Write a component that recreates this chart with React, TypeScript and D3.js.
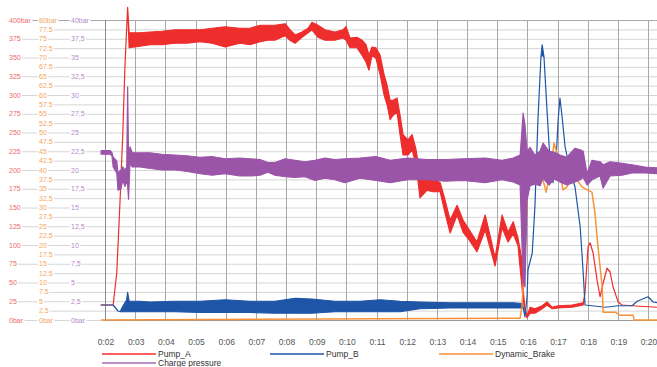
import * as d3 from 'd3';
import React from 'react';

// time axis (seconds) and tick labels
const timeLabels = ['0:02', '0:03', '0:04', '0:05', '0:06', '0:07', '0:08', '0:09', '0:10', '0:11',
  '0:12', '0:13', '0:14', '0:15', '0:16', '0:17', '0:18', '0:19', '0:20'];
const timeTicks = [2, 3, 4, 5, 6, 7, 8, 9, 10, 11, 12, 13, 14, 15, 16, 17, 18, 19, 20];

// pump axis 0..400 bar (step 25)
const pumpLabels = ['0bar', '25', '50', '75', '100', '125', '150', '175', '200', '225', '250',
  '275', '300', '325', '350', '375', '400bar'];
// brake axis 0..80 bar (step 2.5)
const brakeLabels = ['0bar', '2.5', '5', '7.5', '10', '12.5', '15', '17.5', '20', '22.5', '25',
  '27.5', '30', '32.5', '35', '37.5', '40', '42.5', '45', '47.5', '50', '52.5', '55', '57.5', '60',
  '62.5', '65', '67.5', '70', '72.5', '75', '77.5', '80bar'];
// charge axis 0..40 bar (step 2.5)
const chargeLabels = ['0bar', '2,5', '5', '7,5', '10', '12,5', '15', '17,5', '20', '22,5', '25',
  '27,5', '30', '32,5', '35', '37,5', '40bar'];

// [time s, low bar, high bar] - noisy traces read as an envelope
const pumpA = [
  [1.87, 20, 20], [2.27, 20, 20], [2.39, 63, 63], [2.50, 160, 160], [2.59, 249, 249],
  [2.66, 337, 337], [2.72, 391, 391], [2.75, 417, 417], [2.80, 363, 383], [3.16, 365, 383],
  [3.49, 367, 384], [3.89, 367, 385], [4.32, 369, 387], [4.72, 369, 387], [5.15, 371, 387],
  [5.55, 369, 389], [5.98, 364, 391], [6.47, 369, 389], [6.81, 367, 389], [7.14, 371, 393],
  [7.40, 373, 393], [7.63, 373, 393], [7.97, 379, 395], [8.13, 373, 387], [8.30, 369, 380],
  [8.53, 377, 384], [8.73, 383, 389], [8.86, 387, 397], [9.06, 377, 393], [9.29, 373, 387],
  [9.62, 373, 384], [9.89, 376, 387], [9.99, 373, 391], [10.12, 363, 376], [10.35, 363, 377],
  [10.52, 353, 373], [10.65, 344, 367], [10.75, 333, 353], [10.85, 353, 364], [10.98, 349, 363],
  [11.12, 327, 353], [11.25, 300, 327], [11.35, 287, 313], [11.45, 267, 293], [11.55, 273, 293],
  [11.68, 277, 296], [11.78, 247, 273], [11.88, 220, 247], [12.04, 220, 240], [12.18, 227, 247],
  [12.31, 207, 227], [12.44, 163, 193], [12.67, 173, 191], [12.87, 171, 189], [13.11, 171, 183],
  [13.27, 143, 160], [13.44, 116, 133], [13.67, 140, 153], [13.87, 117, 133], [14.03, 109, 123],
  [14.33, 91, 104], [14.60, 120, 140], [14.76, 97, 113], [14.93, 72, 83], [15.16, 123, 140],
  [15.36, 104, 117], [15.53, 115, 131], [15.69, 99, 109], [15.82, 44, 80], [15.86, 27, 40],
  [15.92, 11, 16], [15.99, 3, 5], [16.09, 9, 17], [16.25, 9, 15], [16.49, 15, 19],
  [16.65, 20, 24], [16.82, 15, 17], [17.02, 16, 19], [17.48, 17, 20], [17.85, 20, 23],
  [17.91, 36, 36], [18.01, 97, 97], [18.08, 103, 103], [18.18, 89, 89], [18.31, 53, 53],
  [18.41, 31, 31], [18.51, 49, 49], [18.64, 69, 69], [18.74, 64, 64], [18.84, 44, 44],
  [19.01, 24, 24], [19.14, 20, 20], [19.47, 19, 19], [20.30, 17, 17],
];

const pumpB = [
  [1.87, 20, 20], [2.27, 20, 20], [2.33, 17, 17], [2.43, 12, 12], [2.50, 11, 11],
  [2.60, 11, 19], [2.72, 11, 27], [2.75, 11, 37], [2.80, 11, 25], [3.16, 11, 25],
  [3.49, 11, 24], [4.32, 11, 25], [5.15, 10, 25], [5.98, 10, 27], [6.81, 10, 25],
  [7.63, 9, 25], [8.30, 9, 29], [8.86, 9, 28], [9.62, 11, 25], [10.45, 11, 25],
  [11.12, 11, 27], [11.78, 11, 25], [12.44, 15, 24], [13.44, 16, 23], [14.60, 16, 23],
  [15.53, 16, 23], [15.82, 16, 22], [15.86, 17, 17], [15.92, 4, 4], [15.99, 31, 31],
  [16.02, 67, 67], [16.16, 89, 89], [16.25, 151, 151], [16.35, 267, 267], [16.45, 351, 351],
  [16.49, 353, 367], [16.55, 351, 351], [16.65, 280, 280], [16.75, 213, 213], [16.85, 183, 183],
  [16.95, 213, 213], [17.02, 267, 267], [17.08, 296, 296], [17.15, 271, 271], [17.25, 231, 231],
  [17.41, 200, 200], [17.58, 177, 177], [17.75, 124, 124], [17.85, 63, 63], [17.91, 20, 20],
  [18.14, 19, 19], [18.58, 17, 17], [19.01, 19, 19], [19.47, 19, 19], [19.64, 25, 25],
  [20.00, 31, 31], [20.17, 24, 24], [20.30, 23, 23],
];

// [time s, bar] on the 0..80 axis
const dynamicBrake = [
  [1.87, 0], [15.76, 0.5], [15.82, 3.5], [15.92, 17.9], [15.99, 32], [16.09, 41.9],
  [16.19, 42.7], [16.32, 40], [16.42, 38.1], [16.52, 37.3], [16.62, 34.1], [16.68, 36.5],
  [16.82, 42.7], [16.88, 47.2], [16.98, 44.5], [17.08, 39.2], [17.18, 34.7], [17.31, 35.5],
  [17.48, 38.1], [17.65, 37.3], [17.81, 35.5], [17.98, 34.7], [18.14, 34.1], [18.24, 28.5],
  [18.34, 19.5], [18.48, 8.8], [18.51, 2.1], [18.91, 2.1], [19.07, 1.3], [19.50, 1.3],
  [19.54, 0], [20.30, 0],
];

// [time s, low bar, high bar] on the 0..40 axis
const chargePressure = [
  [1.87, 22.1, 22.6], [2.17, 22.1, 22.6], [2.23, 21.9, 22.3], [2.27, 20.4, 21.7], [2.39, 19.6, 21.2],
  [2.43, 17.3, 19.6], [2.53, 17.5, 20.0], [2.59, 18.7, 20.4], [2.66, 17.8, 20.0], [2.72, 18.5, 20.4],
  [2.75, 18.0, 31.1], [2.78, 16.1, 22.0], [2.83, 21.0, 23.1], [2.90, 20.4, 22.3], [3.16, 20.4, 22.3],
  [3.49, 20.2, 22.3], [3.89, 20.0, 22.1], [4.32, 20.0, 22.0], [4.72, 19.8, 21.9], [5.15, 19.5, 21.7],
  [5.55, 19.3, 21.8], [5.98, 19.5, 21.5], [6.47, 19.2, 21.6], [6.81, 19.2, 21.5], [7.14, 19.3, 21.4],
  [7.40, 19.7, 21.0], [7.63, 19.3, 21.0], [7.97, 19.1, 21.5], [8.30, 19.0, 21.3], [8.63, 19.1, 21.1],
  [8.96, 18.6, 21.3], [9.29, 18.9, 21.6], [9.62, 18.7, 21.4], [9.95, 18.3, 21.5], [10.45, 18.9, 21.6],
  [10.98, 18.6, 21.8], [11.45, 18.3, 21.3], [12.04, 18.7, 21.6], [12.67, 18.7, 21.4], [13.27, 18.5, 21.4],
  [13.87, 18.6, 21.5], [14.60, 18.3, 21.6], [15.16, 18.7, 21.3], [15.53, 18.4, 21.6], [15.76, 18.0, 22.0],
  [15.86, 4.9, 27.6], [15.92, 4.4, 26.0], [15.99, 16.0, 22.5], [16.09, 17.9, 23.0], [16.25, 18.1, 22.0],
  [16.42, 17.9, 22.5], [16.52, 18.9, 23.6], [16.72, 18.0, 22.5], [16.88, 18.8, 22.4], [17.08, 18.4, 22.0],
  [17.31, 18.0, 21.7], [17.58, 18.4, 22.9], [17.75, 18.7, 22.7], [17.85, 19.0, 22.5], [17.98, 18.0, 19.5],
  [18.14, 18.7, 21.3], [18.41, 19.2, 21.1], [18.51, 17.6, 20.7], [18.74, 19.2, 21.1], [19.14, 19.3, 20.9],
  [19.47, 19.6, 20.7], [19.90, 19.6, 20.4], [20.30, 19.5, 20.3],
];

const W = 657;
const H = 367;
const top = 20;
const bottom = 320;
const right = 657;
const font = '"Liberation Sans", Arial, sans-serif';

export default function App() {
  const x = d3.scaleLinear().domain([2, 20]).range([105, 105 + 18 * 30.17]);
  const yPump = d3.scaleLinear().domain([0, 400]).range([bottom, top]);
  const yBrake = d3.scaleLinear().domain([0, 80]).range([bottom, top]);
  const yCharge = d3.scaleLinear().domain([0, 40]).range([bottom, top]);

  const band = (y) => d3.area()
    .x(d => x(d[0]))
    .y0(d => y(d[1]))
    .y1(d => y(d[2]));

  const brakeLine = d3.line()
    .x(d => x(d[0]))
    .y(d => yBrake(d[1]));

  const series = [
    { name: 'Pump_A', color: '#ee2d2d', data: pumpA, y: yPump },
    { name: 'Pump_B', color: '#1f55a6', data: pumpB, y: yPump },
  ];

  const legend = [
    { name: 'Pump_A', color: '#ff2a2a', x: 102, y: 354 },
    { name: 'Pump_B', color: '#1f55a6', x: 270, y: 354 },
    { name: 'Dynamic_Brake', color: '#f7923a', x: 439, y: 354 },
    { name: 'Charge pressure', color: '#a56ab8', x: 102, y: 363 },
  ];

  return (
    <div style={{ position: 'absolute', left: 0, top: 0 }}>
      <svg width={W} height={H} style={{ display: 'block', background: '#fff' }}>
        {/* horizontal grid, one line per brake tick */}
        {brakeLabels.map((l, i) => {
          const v = i * 2.5;
          return (
            <line key={'h' + i} x1={i % 2 === 0 ? 9 : 39} x2={right}
              y1={yBrake(v) + 0.5} y2={yBrake(v) + 0.5}
              stroke={i === brakeLabels.length - 1 ? '#a8a8a8' : '#d6d6d6'} strokeWidth={1} />
          );
        })}

        {/* vertical grid */}
        {timeTicks.slice(1).map(t => (
          <line key={'v' + t} x1={Math.round(x(t)) + 0.5} x2={Math.round(x(t)) + 0.5}
            y1={top} y2={bottom} stroke="#a9a9a9" strokeWidth={1} />
        ))}
        <line x1={105.5} x2={105.5} y1={top} y2={bottom} stroke="#8a8a8a" />
        <line x1={105} x2={right} y1={bottom + 0.5} y2={bottom + 0.5} stroke="#9a9a9a" />

        {/* y axis labels */}
        <g fontFamily={font} fontSize={7} style={{ paintOrder: 'stroke' }} stroke="#fff" strokeWidth={3}>
          {pumpLabels.map((l, i) => (
            <text key={'p' + i} x={9} y={yPump(i * 25) + 2.5} fill="#ec6b6b">{l}</text>
          ))}
          {brakeLabels.map((l, i) => (
            <text key={'b' + i} x={39} y={yBrake(i * 2.5) + 2.5} fill="#f5a55e">{l}</text>
          ))}
          {chargeLabels.map((l, i) => (
            <text key={'c' + i} x={71} y={yCharge(i * 2.5) + 2.5} fill="#b48ac6">{l}</text>
          ))}
        </g>

        {/* x axis labels */}
        <g fontFamily={font} fontSize={8.5} fill="#555" textAnchor="middle">
          {timeLabels.map((l, i) => (
            <text key={'t' + i} x={x(timeTicks[i]) + 1} y={345}>{l}</text>
          ))}
        </g>

        {/* data */}
        {series.map(s => (
          <path key={s.name} d={band(s.y)(s.data)} fill={s.color} stroke={s.color}
            strokeWidth={1.2} strokeLinejoin="round" />
        ))}
        <path d={brakeLine(dynamicBrake)} fill="none" stroke="#f7923a" strokeWidth={1.5}
          strokeLinejoin="round" />
        <path d={band(yCharge)(chargePressure)} fill="#9b55a8" stroke="#9b55a8"
          strokeWidth={1.2} strokeLinejoin="round" />

        {/* legend */}
        <g fontFamily={font} fontSize={8.5} fill="#333">
          {legend.map(d => (
            <g key={d.name}>
              <line x1={d.x} x2={d.x + 54} y1={d.y} y2={d.y} stroke={d.color} strokeWidth={1.5} />
              <text x={d.x + 56} y={d.y + 3}>{d.name}</text>
            </g>
          ))}
        </g>
      </svg>
    </div>
  );
}
